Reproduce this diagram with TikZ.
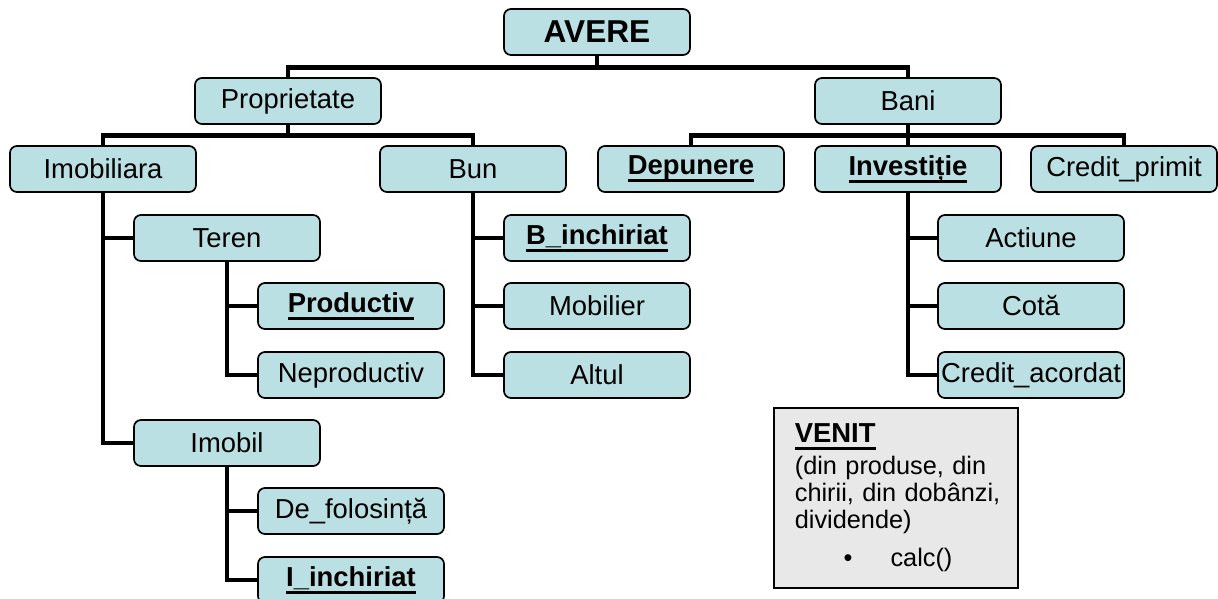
\documentclass[tikz,border=0pt]{standalone}
\usepackage{fontspec}
\setmainfont{Liberation Sans}
\definecolor{avereCyan}{RGB}{187,224,227}
\definecolor{avereGray}{RGB}{232,232,232}
\usetikzlibrary{positioning,calc}
\newcommand{\ulword}[1]{\leavevmode\setbox0=\hbox{#1}\rlap{\rule[-0.26em]{\wd0}{0.1em}}\box0}

\begin{document}
\begin{tikzpicture}[x=0.025cm, y=-0.025cm,
  box/.style={draw, line width=1.2pt, fill=avereCyan, rounded corners=5pt,
              minimum width=4.65cm, minimum height=1.15cm, inner sep=0pt,
              font=\fontsize{19.5}{23}\selectfont},
  head/.style={box, font=\bfseries\fontsize{22.5}{26}\selectfont},
  link/.style={line width=3.5pt},
  venit/.style={draw, line width=1.2pt, fill=avereGray, text width=5.05cm,
                minimum width=6.1cm, minimum height=4.5cm, inner xsep=0.525cm,
                inner ysep=0pt, align=left, font=\fontsize{18}{19.2}\selectfont}
]
  \useasboundingbox (0,0) rectangle (1218,599);

  % levels 0 and 1
  \node[head] (avere) at (597,32) {AVERE};
  \node[box] (prop) at (288,101) {Proprietate};
  \node[box] (bani) at (908,101) {Bani};

  % level 2
  \node[box] (imobiliara) at (103,169) {Imobiliara};
  \node[box] (bun) at (473,169) {Bun};
  \node[box, font=\bfseries\fontsize{19.5}{23}\selectfont] (depunere) at (691,169) {\ulword{Depunere}};
  \node[box, font=\bfseries\fontsize{19.5}{23}\selectfont] (investitie) at (908,169) {\ulword{Investiție}};
  \node[box] (creditp) at (1124,169) {Credit\_primit};

  % Imobiliara branch
  \node[box] (teren) at (227,238) {Teren};
  \node[box, font=\bfseries\fontsize{19.5}{23}\selectfont] (productiv) at (351,306) {\ulword{Productiv}};
  \node[box] (neprod) at (351,375) {Neproductiv};
  \node[box] (imobil) at (227,443) {Imobil};
  \node[box] (defol) at (351,511) {De\_folosință};
  \node[box, font=\bfseries\fontsize{19.5}{23}\selectfont] (iinch) at (351,580) {\ulword{I\_inchiriat}};

  % Bun branch
  \node[box, font=\bfseries\fontsize{19.5}{23}\selectfont] (binch) at (597,238) {\ulword{B\_inchiriat}};
  \node[box] (mobilier) at (597,306) {Mobilier};
  \node[box] (altul) at (597,375) {Altul};

  % Investitie branch
  \node[box] (actiune) at (1031,238) {Actiune};
  \node[box] (cota) at (1031,306) {Cotă};
  \node[box] (creditac) at (1031,375) {Credit\_acordat};

  % connectors
  \foreach \kid in {prop,bani}
    \draw[link] (avere.south) -- ++(0,12) -| (\kid.north);
  \foreach \kid in {imobiliara,bun}
    \draw[link] (prop.south) -- ++(0,11) -| (\kid.north);
  \foreach \kid in {depunere,investitie,creditp}
    \draw[link] (bani.south) -- ++(0,11) -| (\kid.north);
  \foreach \kid in {teren,imobil}
    \draw[link] (imobiliara.south) |- (\kid.west);
  \foreach \kid in {productiv,neprod}
    \draw[link] (teren.south) |- (\kid.west);
  \foreach \kid in {defol,iinch}
    \draw[link] (imobil.south) |- (\kid.west);
  \foreach \kid in {binch,mobilier,altul}
    \draw[link] (bun.south) |- (\kid.west);
  \foreach \kid in {actiune,cota,creditac}
    \draw[link] (investitie.south) |- (\kid.west);

  \node[venit, anchor=north west] (venitbox) at (773,407)
    {{\bfseries\fontsize{19.5}{23}\selectfont\ulword{VENIT}}\\[3.5pt]
     \makebox[5.05cm][s]{(din produse, din}\\
     \makebox[5.05cm][s]{chirii, din dobânzi,}\\
     dividende)\\[8pt]
     \hspace*{1.22cm}\textbullet\hspace{0.95cm}calc()};
\end{tikzpicture}
\end{document}
